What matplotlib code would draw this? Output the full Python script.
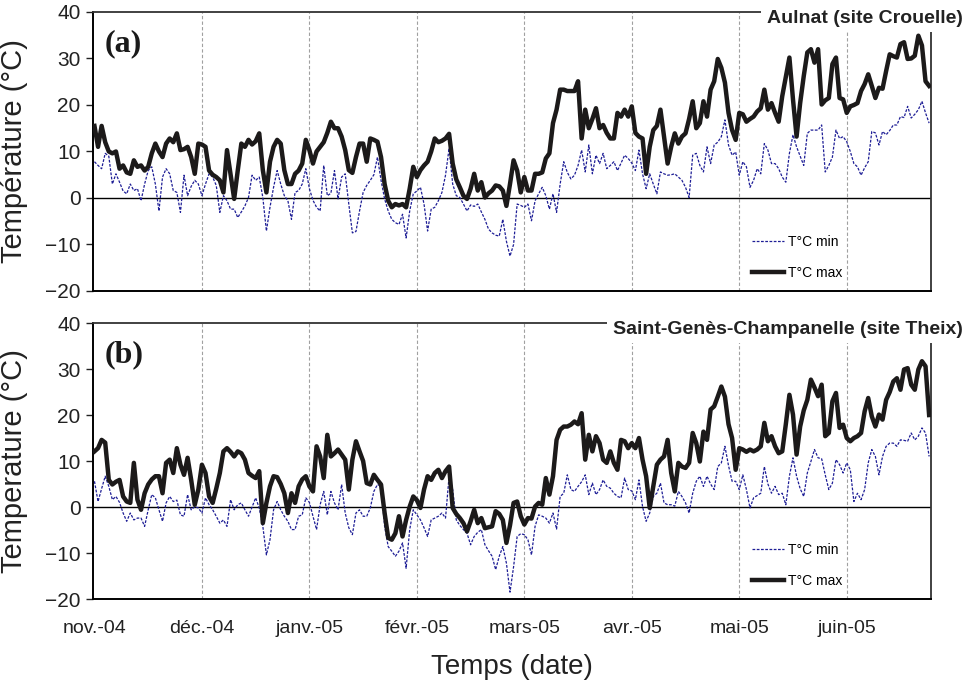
import numpy as np
import matplotlib
matplotlib.use("Agg")
import matplotlib.pyplot as plt

plt.rcParams["font.family"] = ["Liberation Sans", "DejaVu Sans"]

# libellés des mois (un repère tous les 30 jours)
month_labels = ["nov.-04", "déc.-04", "janv.-05", "févr.-05",
                "mars-05", "avr.-05", "mai-05", "juin-05"]

# (a) Aulnat (site Crouelle) - températures journalières (°C), à partir du 1er nov. 2004
tmax_a = [15.5, 11.0, 15.5, 12.0, 10.0, 9.6, 10.0, 6.3, 7.0, 5.5,
          5.2, 8.1, 6.7, 7.0, 5.9, 6.7, 9.6, 11.7, 10.0, 8.8,
          11.7, 12.8, 12.0, 13.9, 10.3, 10.5, 11.0, 8.8, 5.2, 11.7,
          11.5, 11.0, 5.9, 5.0, 4.5, 3.8, 1.2, 10.3, 5.0, -0.2,
          5.9, 11.7, 11.0, 12.5, 11.5, 12.2, 13.9, 6.0, 1.2, 7.8,
          11.0, 12.5, 11.7, 6.0, 3.0, 3.0, 5.2, 5.9, 7.4, 12.5,
          10.3, 7.4, 10.0, 11.0, 12.0, 14.0, 16.4, 15.0, 15.0, 13.2,
          10.3, 6.0, 5.4, 8.8, 11.7, 11.7, 7.8, 12.8, 12.5, 12.1,
          8.8, 3.0, -0.6, -2.0, -1.3, -1.6, -1.3, -2.0, 2.0, 6.7,
          4.5, 6.0, 7.0, 7.8, 10.0, 12.8, 12.0, 12.3, 12.8, 13.8,
          7.4, 4.0, 2.3, 0.5, -0.2, 2.0, 5.2, 1.6, 3.4, 0.1,
          1.0, 1.6, 2.7, 2.5, 1.6, -1.7, 3.0, 8.1, 5.9, 1.2,
          4.5, 1.6, 1.6, 5.2, 5.2, 5.5, 8.5, 9.6, 16.1, 19.0,
          23.3, 23.3, 23.0, 23.0, 23.0, 25.1, 12.8, 19.0, 15.0, 17.0,
          19.3, 15.0, 15.7, 14.0, 12.8, 12.8, 18.3, 17.5, 19.0, 17.5,
          19.7, 14.0, 13.2, 12.8, 5.2, 11.0, 14.6, 15.5, 19.0, 13.2,
          7.4, 11.0, 13.9, 11.7, 13.2, 13.9, 17.0, 20.8, 15.0, 16.1,
          20.8, 17.5, 23.3, 25.1, 29.9, 28.0, 24.8, 18.3, 14.6, 12.5,
          18.3, 18.0, 16.4, 17.0, 17.5, 18.6, 19.3, 23.3, 19.0, 20.4,
          18.3, 16.4, 21.9, 26.0, 30.2, 21.2, 13.2, 20.4, 26.2, 31.3,
          32.0, 29.1, 32.0, 20.1, 21.0, 21.5, 28.8, 30.2, 21.5, 21.2,
          18.3, 19.7, 20.0, 20.4, 23.0, 24.5, 26.6, 24.1, 21.5, 23.7,
          23.5, 27.3, 30.9, 30.5, 30.2, 33.1, 33.5, 29.9, 30.0, 30.6,
          34.9, 32.8, 25.1, 24.1]
tmin_a = [7.8, 7.0, 6.3, 9.6, 9.0, 3.0, 5.2, 3.4, 1.5, 0.9,
          3.0, 1.6, 2.0, -0.6, 3.0, 5.9, 6.7, 3.0, -2.8, 4.5,
          6.3, 5.2, 1.6, 1.2, -3.1, 4.9, 0.5, 2.5, 3.8, 3.0,
          0.5, 3.0, 5.2, 4.5, 2.7, -3.1, 0.5, -0.6, -2.4, -2.4,
          -4.2, -3.0, -1.7, 0.1, 4.9, 3.8, 4.5, 0.1, -7.1, -2.0,
          2.3, 5.9, 3.0, 0.5, -0.6, -4.6, 1.2, 1.6, 3.0, 6.3,
          2.0, -0.5, -2.0, -2.8, 7.0, 0.5, 1.0, 5.9, -0.2, 4.5,
          5.2, -1.3, -7.5, -7.2, -2.8, 1.2, 2.7, 3.8, 5.0, 8.8,
          3.8, -0.2, -2.8, -4.6, -5.3, -5.7, -3.5, -8.6, -2.8, 0.9,
          1.5, 2.3, -1.3, -7.1, -2.4, -2.0, -0.6, 1.2, 4.9, 10.7,
          3.0, 0.5, 0.1, -1.3, -2.8, -1.5, -1.8, -1.3, -3.0, -4.6,
          -6.7, -7.5, -8.0, -8.2, -4.6, -9.3, -12.5, -10.0, -1.3, -1.6,
          -2.0, -1.3, -4.9, -0.6, 0.9, 2.3, 0.5, -2.4, 0.9, -3.1,
          3.0, 7.8, 5.5, 4.1, 4.9, 7.0, 10.3, 5.6, 11.4, 5.2,
          9.2, 7.4, 9.6, 6.3, 7.0, 7.8, 5.9, 7.5, 9.2, 8.5,
          7.5, 5.9, 10.3, 5.2, 2.0, 5.2, 3.0, 0.9, 5.6, 5.2,
          4.9, 5.0, 5.2, 4.5, 3.8, 2.3, 0.1, 9.2, 9.6, 7.0,
          5.6, 11.0, 7.4, 11.4, 12.0, 13.2, 16.8, 11.4, 9.2, 9.9,
          4.9, 7.8, 6.7, 2.3, 3.8, 6.3, 5.2, 11.7, 10.3, 7.4,
          7.4, 6.3, 4.5, 3.4, 9.6, 13.6, 11.0, 9.0, 7.0, 13.9,
          14.6, 14.6, 14.6, 15.7, 5.6, 7.0, 8.8, 14.6, 12.8, 13.2,
          12.1, 10.0, 7.4, 6.7, 4.9, 6.5, 7.8, 14.3, 14.0, 11.4,
          14.3, 13.6, 14.5, 15.7, 15.7, 17.5, 17.3, 19.7, 17.2, 18.0,
          19.0, 20.8, 18.3, 16.1]

# (b) Saint-Genès-Champanelle (site Theix)
tmax_b = [12.1, 12.8, 14.6, 14.0, 5.9, 4.9, 5.5, 5.9, 2.3, 1.2,
          0.9, 9.6, 1.6, -0.6, 3.0, 4.9, 6.0, 6.7, 6.7, 3.0,
          9.6, 10.3, 7.4, 12.8, 9.2, 7.0, 10.7, 5.9, 0.5, 3.8,
          9.2, 7.4, 2.3, 0.9, 4.0, 7.4, 12.1, 12.8, 12.0, 11.0,
          12.1, 11.7, 10.3, 7.4, 6.8, 6.3, 7.8, -3.5, 0.9, 4.5,
          6.7, 6.5, 5.0, 3.0, -1.3, 3.0, 0.9, 4.5, 6.0, 6.7,
          4.5, 3.4, 13.2, 11.0, 6.3, 15.7, 11.0, 11.7, 12.5, 11.4,
          10.3, 3.8, 10.3, 14.3, 12.1, 10.0, 5.2, 4.9, 7.0, 5.9,
          4.9, -1.3, -6.7, -7.1, -5.7, -2.0, -6.4, -2.8, 0.1, 2.3,
          1.5, -0.2, 3.8, 6.7, 5.9, 7.4, 8.1, 6.3, 7.8, 8.8,
          -0.2, -1.5, -2.4, -3.5, -5.3, -3.1, -0.6, -3.5, -2.4, -4.6,
          -4.4, -4.2, -0.9, -1.5, -2.8, -7.8, -4.0, 0.9, 1.2, -2.0,
          -3.8, -2.4, -2.5, 0.1, 0.9, 0.5, 6.3, 2.7, 6.7, 14.6,
          16.8, 17.5, 17.5, 17.9, 18.6, 18.0, 20.4, 10.3, 15.7, 12.1,
          15.4, 13.9, 10.3, 9.6, 12.1, 9.6, 8.1, 14.6, 14.3, 12.8,
          13.9, 12.8, 15.0, 10.3, 6.7, -0.2, 4.5, 9.2, 10.3, 11.0,
          14.6, 7.4, 3.4, 9.6, 8.8, 8.5, 9.6, 16.1, 13.9, 9.9,
          16.4, 14.6, 21.2, 21.9, 24.0, 26.2, 24.0, 18.0, 15.0, 8.1,
          12.8, 12.5, 12.0, 12.5, 12.1, 12.5, 13.2, 18.3, 14.3, 15.4,
          13.2, 11.7, 12.1, 18.0, 24.4, 20.1, 11.4, 17.5, 21.0, 23.3,
          27.7, 26.0, 24.1, 26.6, 15.4, 16.1, 23.0, 24.8, 17.2, 17.9,
          15.0, 14.3, 15.0, 15.4, 16.1, 20.8, 23.7, 19.7, 17.5, 20.1,
          19.0, 23.3, 25.0, 27.3, 28.0, 25.5, 29.9, 30.2, 26.6, 25.5,
          29.9, 31.7, 30.6, 20.0]
tmin_b = [5.6, 1.2, 4.0, 6.7, 4.5, 1.6, 2.3, 1.0, -1.3, -3.1,
          -1.3, -2.8, -2.4, -2.4, -4.2, -0.6, 2.7, 2.0, -0.6, -3.1,
          0.9, 2.3, 1.2, 1.5, -1.7, -2.0, 2.7, -0.6, 0.1, -0.2,
          -1.3, 2.0, 0.5, -0.6, -2.0, -3.5, -2.8, -4.2, 1.6, -0.6,
          0.5, 0.9, -0.6, -2.0, 0.0, 2.0, -0.2, -4.2, -10.4, -7.1,
          -0.6, 1.2, -0.6, -2.0, -3.1, -4.9, -4.9, -2.0, -1.7, 2.0,
          1.0, -2.0, -4.9, 0.5, 3.4, -1.7, 3.4, 0.9, -0.6, 4.9,
          -1.3, -4.5, -6.0, -1.3, -0.6, -2.0, -2.0, -0.2, 3.4, 4.9,
          4.5, -4.2, -8.6, -9.6, -10.7, -9.6, -7.8, -13.3, -4.9, -0.6,
          -1.7, -2.8, -4.5, -6.4, -2.8, -2.4, -2.0, -1.3, -2.4, 6.7,
          3.8, -2.8, -4.0, -4.9, -5.7, -8.2, -6.4, -5.5, -4.9, -8.2,
          -9.5, -10.7, -13.6, -10.7, -8.6, -12.2, -18.5, -13.0, -6.4, -5.8,
          -6.0, -7.1, -10.4, -4.2, -1.7, -2.0, -2.4, -3.5, -1.3, -4.8,
          2.3, 3.0, 7.0, 3.8, 3.4, 4.5, 5.5, 7.0, 2.7, 5.2,
          2.7, 3.8, 5.9, 4.5, 4.1, 3.0, 2.3, 2.0, 6.3, 3.8,
          3.5, 1.6, 5.9, 0.1, -3.1, -1.3, 2.3, 3.0, 5.2, 0.9,
          0.5, 0.5, 0.2, 3.4, 2.3, 0.9, -1.3, 3.0, 5.6, 6.7,
          4.5, 6.7, 5.0, 3.8, 8.8, 9.6, 13.2, 9.0, 5.6, 5.6,
          3.8, 7.0, 3.8, -0.2, 2.0, 2.5, 3.0, 8.8, 5.0, 3.0,
          4.5, 2.7, 3.0, 0.5, 6.7, 10.7, 6.7, 4.0, 2.3, 7.4,
          9.9, 12.5, 10.7, 10.5, 7.0, 3.8, 5.2, 10.3, 9.2, 7.4,
          9.6, 8.1, 1.2, 3.0, 1.6, 3.8, 9.6, 12.5, 11.0, 7.0,
          11.0, 13.2, 13.9, 13.9, 13.2, 14.6, 14.5, 14.3, 16.1, 14.6,
          15.4, 17.2, 16.1, 11.0]

fig = plt.figure(figsize=(9.64, 6.85), dpi=100)
ax1 = fig.add_axes([0.0965, 0.5752, 0.8688, 0.4073])
ax2 = fig.add_axes([0.0965, 0.1255, 0.8688, 0.4029])

panels = [
    (ax1, tmin_a, tmax_a, "(a)", "Aulnat (site Crouelle)", "Température (°C)"),
    (ax2, tmin_b, tmax_b, "(b)", "Saint-Genès-Champanelle (site Theix)", "Temperature (°C)"),
]

for ax, tmin, tmax, tag, site, ylab in panels:
    days = np.arange(len(tmax))
    for xg in range(30, 211, 30):
        ax.axvline(xg, color="#a0a0a0", lw=0.8, ls=(0, (3, 2)), zorder=0)
    ax.axhline(0, color="black", lw=1.0, zorder=1)
    ax.plot(days, tmin, color="#1e1e96", lw=0.9, ls=(0, (2.2, 1.2)), label="T°C min", zorder=2)
    ax.plot(days, tmax, color="#1c1a1a", lw=3.2, label="T°C max", zorder=3,
            solid_joinstyle="round")

    ax.set_xlim(-0.4, 233.4)
    ax.set_ylim(-20, 40)
    ax.set_yticks(range(-20, 41, 10))
    ax.set_xticks(range(0, 211, 30))
    ax.tick_params(axis="y", length=5, width=1, direction="out", labelsize=15,
                   pad=4, colors="#222222")
    ax.tick_params(axis="x", length=0, labelsize=14, pad=15, colors="#222222")
    for side in ["left", "bottom"]:
        ax.spines[side].set_color("black")
        ax.spines[side].set_linewidth(1.4)
    for side in ["top", "right"]:
        ax.spines[side].set_color("#333333")
        ax.spines[side].set_linewidth(1.3)

    ax.set_ylabel(ylab, fontsize=21, color="#222222")
    ax.yaxis.set_label_coords(-0.078, 0.5)

    ax.text(0.014, 0.885, tag, transform=ax.transAxes, ha="left", va="center",
            fontsize=23, fontweight="bold", family=["Liberation Serif", "DejaVu Serif"],
            color="#1a1a1a")
    ax.text(1.038, 0.978, site, transform=ax.transAxes, ha="right", va="center",
            fontsize=14, fontweight="bold", color="#222222", zorder=10, clip_on=False,
            bbox=dict(facecolor="white", edgecolor="none", pad=4))

    ax.legend(loc="lower left", bbox_to_anchor=(0.787, 0.04), frameon=False,
              fontsize=10, handlelength=2.3, handletextpad=0.3, labelspacing=1.2,
              borderpad=0, borderaxespad=0)

ax1.set_xticklabels([])
ax2.set_xticklabels(month_labels)
ax2.set_xlabel("Temps (date)", fontsize=20, color="#222222", labelpad=12)

fig.savefig("out.png", dpi=100)
